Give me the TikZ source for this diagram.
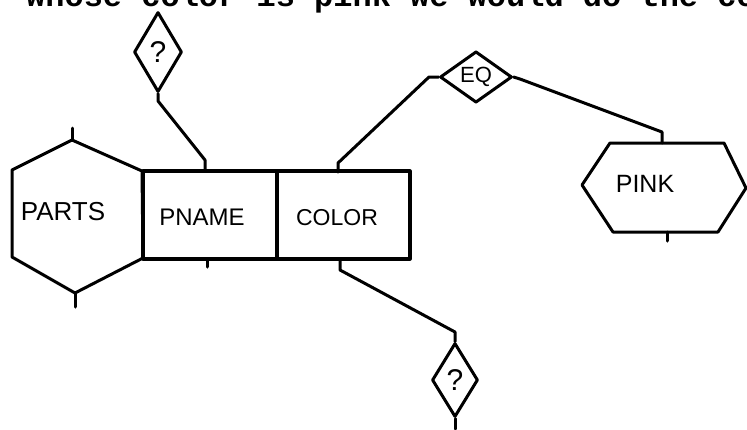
\documentclass[tikz,border=0pt]{standalone}
\usepackage{fontspec}
\setmainfont{Liberation Sans}
\newfontfamily\typew{Liberation Mono}
\usetikzlibrary{shapes.geometric}
\begin{document}
\begin{tikzpicture}[x=1pt,y=-1pt,line join=round,line cap=round,
  ln/.style={line width=3pt},
  lbl/.style={inner sep=0pt,font=\fontsize{24}{24}\selectfont},
  dmd/.style={draw,diamond,inner sep=0pt,line width=3pt},
  fieldbox/.style={draw,rectangle,line width=3.2pt,inner sep=0pt}]
\useasboundingbox (0,0) rectangle (747,429);
\begin{scope}
  \clip (0,0) rectangle (747,429);
  \node[anchor=base west,inner sep=0pt,font=\typew\bfseries\fontsize{32}{32}\selectfont] (toptext) at (26,6) {whose color is pink we would do the co};
\end{scope}

% PARTS hexagon
\coordinate (pa1) at (72,140);
\coordinate (pa2) at (142,171);
\coordinate (pa3) at (143,258);
\coordinate (pa4) at (75,293);
\coordinate (pa5) at (12,257);
\coordinate (pa6) at (12,170);
\draw[ln] (pa1) -- (pa2) -- (pa3) -- (pa4) -- (pa5) -- (pa6) -- cycle;
\coordinate (pa1t) at (72,128);
\coordinate (pa4b) at (75,307);
\draw[ln] (pa1) -- (pa1t);
\draw[ln] (pa4) -- (pa4b);
\node[lbl,font=\fontsize{26}{26}\selectfont] (parts) at (63,212) {PARTS};

% field boxes
\node[fieldbox,minimum width=134,minimum height=88] (pname) at (210,215) {};
\node[fieldbox,minimum width=133,minimum height=88] (color) at (343.5,215) {};
\node[lbl] (pnamel) at (202,217) {PNAME};
\node[lbl,font=\fontsize{23}{23}\selectfont] (colorl) at (337,218) {COLOR};

% PINK hexagon
\coordinate (pk1) at (610,143);
\coordinate (pk2) at (724,143);
\coordinate (pk3) at (746,188);
\coordinate (pk4) at (718,232);
\coordinate (pk5) at (613,232);
\coordinate (pk6) at (582,185);
\draw[ln] (pk1) -- (pk2) -- (pk3) -- (pk4) -- (pk5) -- (pk6) -- cycle;
\node[lbl,font=\fontsize{25}{25}\selectfont] (pink) at (645,184) {PINK};
\coordinate (pktop) at (662,143);
\coordinate (pkbot) at (667,232);
\coordinate (pkbot2) at (667,241);
\draw[ln] (pkbot) -- (pkbot2);

% diamonds
\node[dmd,minimum width=48,minimum height=80,font=\fontsize{30}{30}\selectfont] (q1) at (158,52) {?};
\node[dmd,minimum width=72,minimum height=44,font=\fontsize{22}{22}\selectfont] (eq) at (476,77) {EQ};
\node[dmd,minimum width=46,minimum height=74,font=\fontsize{30}{30}\selectfont] (q2) at (455,380) {?};

% connectors
\coordinate (q1s) at (158,101);
\coordinate (pnb) at (205,160);
\coordinate (pntop) at (205,171);
\draw[ln] (q1.south) -- (q1s) -- (pnb) -- (pntop);

\coordinate (pnbt) at (207,259);
\coordinate (pnbt2) at (207,267);
\draw[ln] (pnbt) -- (pnbt2);

\coordinate (eqL) at (429,77);
\coordinate (ctb) at (338,163);
\coordinate (ctop) at (338,172);
\draw[ln] (eq.west) -- (eqL) -- (ctb) -- (ctop);

\coordinate (eqR) at (520,79);
\coordinate (pkb) at (662,132);
\draw[ln] (eq.east) -- (eqR) -- (pkb) -- (pktop);

\coordinate (cbot) at (340,259);
\coordinate (cb2) at (340,270);
\coordinate (q2b) at (455,332);
\draw[ln] (cbot) -- (cb2) -- (q2b) -- (q2.north);

\coordinate (q2end) at (455,429);
\draw[ln] (q2.south) -- (q2end);
\end{tikzpicture}
\end{document}
